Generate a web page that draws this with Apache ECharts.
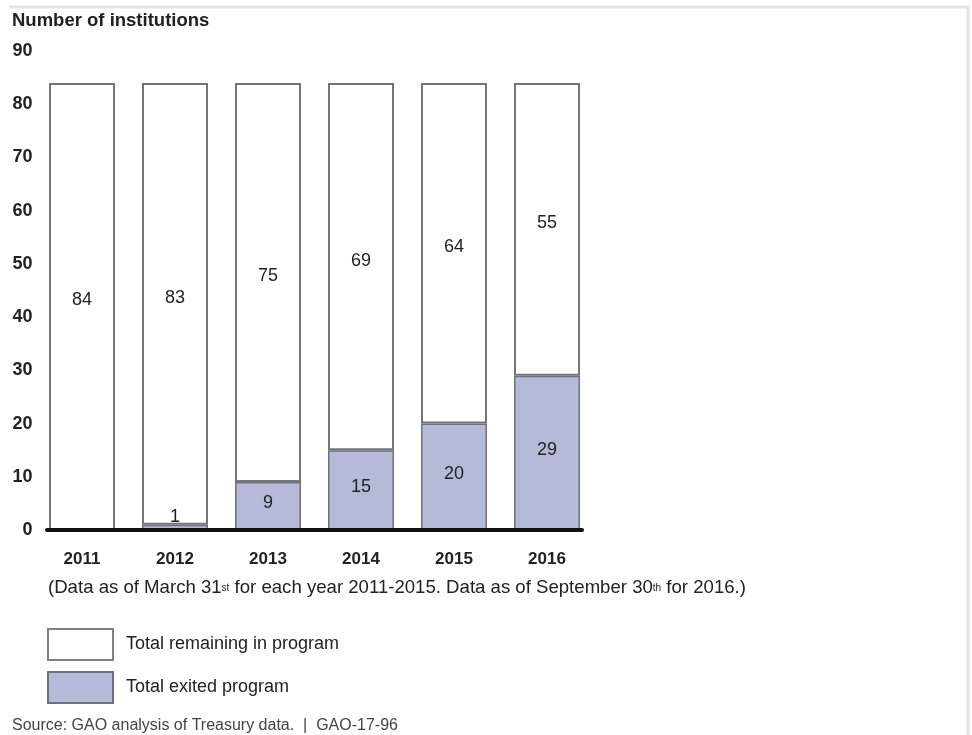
<!DOCTYPE html>
<html>
<head>
<meta charset="utf-8">
<script src="https://cdn.jsdelivr.net/npm/echarts@6/dist/echarts.min.js"></script>
<style>
html,body{margin:0;padding:0;background:#fff;}
#chart{width:972px;height:735px;}
</style>
</head>
<body>
<div id="chart"></div>
<script>
var years = ['2011', '2012', '2013', '2014', '2015', '2016'];
var remaining = [84, 83, 75, 69, 64, 55];
var exited = [0, 1, 9, 15, 20, 29];
var yTicks = [0, 10, 20, 30, 40, 50, 60, 70, 80, 90];

var FONT = '"Liberation Sans", Arial, Helvetica, sans-serif';
var chart = echarts.init(document.getElementById('chart'), null, {renderer: 'canvas'});

var exitedData = exited.map(function (v) {
  if (v === 0) return {value: v, label: {show: false}};
  if (v <= 1) return {value: v, label: {position: 'top', distance: -1, offset: [0, 0]}};
  return {value: v};
});

var option = {
  backgroundColor: '#ffffff',
  animation: false,
  textStyle: {fontFamily: FONT},
  title: [
    {
      text: 'Number of institutions',
      left: 12, top: 11, padding: 0,
      textStyle: {fontFamily: FONT, fontSize: 18.5, fontWeight: 'bold', color: '#222'}
    },
    {
      text: '{n|(Data as of March 31}{s|st}{n| for each year 2011-2015. Data as of September 30}{s|th}{n| for 2016.)}',
      left: 48, top: 578, padding: 0,
      textStyle: {
        fontFamily: FONT, fontWeight: 'normal', fontSize: 18.6,
        rich: {
          n: {fontFamily: FONT, fontSize: 18.6, fontWeight: 'normal', color: '#222', height: 20, verticalAlign: 'bottom'},
          s: {fontFamily: FONT, fontSize: 10, fontWeight: 'normal', color: '#222', height: 20, verticalAlign: 'top'}
        }
      }
    },
    {
      text: 'Source: GAO analysis of Treasury data.  |  GAO-17-96',
      left: 12, top: 718, padding: 0,
      textStyle: {fontFamily: FONT, fontSize: 16, fontWeight: 'normal', color: '#444'}
    }
  ],
  legend: {
    orient: 'vertical',
    left: 47, top: 628,
    padding: 0,
    itemWidth: 65, itemHeight: 31, itemGap: 10,
    selectedMode: false,
    textStyle: {fontFamily: FONT, fontSize: 18, color: '#222', padding: [0, 0, 0, 8]},
    data: [
      {name: 'Total remaining in program', icon: 'rect', itemStyle: {color: '#ffffff', borderColor: '#808080', borderWidth: 2}},
      {name: 'Total exited program', icon: 'rect', itemStyle: {color: '#b5bad9', borderColor: '#6e7080', borderWidth: 2}}
    ]
  },
  graphic: [
    {type: 'line', shape: {x1: 10, y1: 7, x2: 969, y2: 7}, style: {stroke: '#e4e4e4', lineWidth: 3}, silent: true},
    {type: 'line', shape: {x1: 968, y1: 7, x2: 968, y2: 735}, style: {stroke: '#e4e4e4', lineWidth: 3}, silent: true}
  ],
  grid: [
    {left: 35.5, width: 558, top: 51, height: 479, containLabel: false},
    {left: 47, width: 535, top: 51, height: 479, containLabel: false}
  ],
  xAxis: [
    {
      type: 'category', gridIndex: 0, data: years,
      axisLine: {show: false}, axisTick: {show: false},
      axisLabel: {margin: 21, fontFamily: FONT, fontSize: 17, fontWeight: 'bold', color: '#222'}
    },
    {
      type: 'category', gridIndex: 1, data: years, z: 10,
      axisLine: {show: true, onZero: false, lineStyle: {color: '#111', width: 4}},
      axisTick: {show: false}, axisLabel: {show: false}, splitLine: {show: false}
    }
  ],
  yAxis: [
    {
      type: 'value', gridIndex: 0, min: yTicks[0], max: yTicks[yTicks.length - 1], interval: yTicks[1] - yTicks[0],
      axisLine: {show: false}, axisTick: {show: false}, splitLine: {show: false},
      axisLabel: {margin: 3, fontFamily: FONT, fontSize: 18, fontWeight: 'bold', color: '#222'}
    },
    {
      type: 'value', gridIndex: 1, min: yTicks[0], max: yTicks[yTicks.length - 1], show: false
    }
  ],
  series: [
    {
      name: 'Total exited program', type: 'bar', stack: 'total',
      xAxisIndex: 0, yAxisIndex: 0, barWidth: 66,
      itemStyle: {color: '#b5bad9', borderColor: '#6e7080', borderWidth: 1.5},
      label: {show: true, position: 'inside', offset: [0, -3], fontFamily: FONT, fontSize: 18, color: '#222'},
      data: exitedData
    },
    {
      name: 'Total remaining in program', type: 'bar', stack: 'total',
      xAxisIndex: 0, yAxisIndex: 0, barWidth: 66,
      itemStyle: {color: '#ffffff', borderColor: '#757575', borderWidth: 2},
      label: {show: true, position: 'inside', offset: [0, -6], fontFamily: FONT, fontSize: 18, color: '#222'},
      data: remaining
    }
  ]
};
chart.setOption(option);
</script>
</body>
</html>
